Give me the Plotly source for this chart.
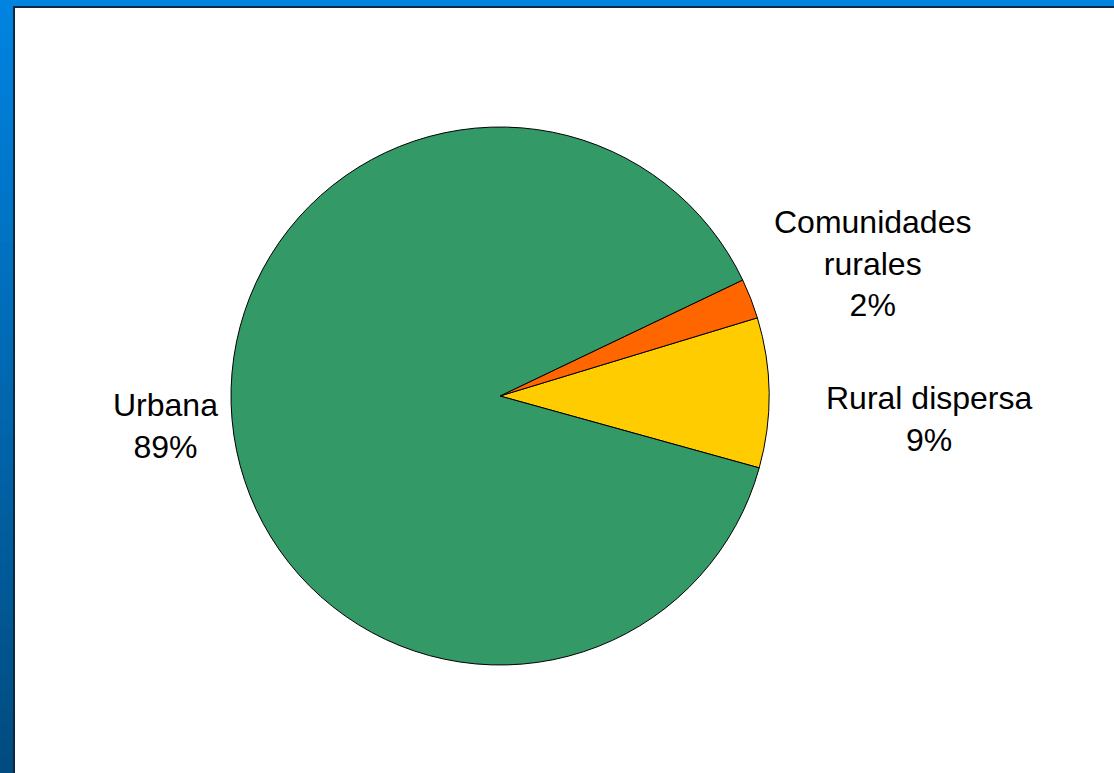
import plotly.graph_objects as go

W, H = 1114, 773

labels = ["Rural dispersa", "Comunidades rurales", "Urbana"]
label_lines = ["Rural dispersa", "Comunidades<br>rurales", "Urbana"]
values = [9.0, 2.4, 88.6]
colors = ["#FFCC00", "#FF6600", "#339966"]


def px(x):
    return x / W


def py(y):
    return 1 - y / H


fig = go.Figure()
fig.add_trace(go.Pie(
    labels=labels,
    values=values,
    sort=False,
    direction="counterclockwise",
    rotation=73.1,
    marker=dict(colors=colors, line=dict(color="black", width=1)),
    textinfo="none",
    hoverinfo="label+percent",
    showlegend=False,
    domain=dict(x=[px(231), px(769)], y=[py(665), py(127)]),
))

# percent labels, computed from the values
total = sum(values)
pcts = [round(v / total * 100) for v in values]
label_pos = [(929, 419), (872, 263), (166, 426)]
for name, p, (lx, ly) in zip(label_lines, pcts, label_pos):
    fig.add_annotation(
        x=px(lx), y=py(ly), xref="paper", yref="paper",
        text=f"{name}<br>{p}%", showarrow=False,
        xanchor="center", yanchor="middle", align="center",
        font=dict(family="Liberation Sans, Arial, sans-serif", size=32, color="black"),
    )

# decorative slide frame
shapes = []
top_c = (0, 131, 224)
bot_c = (0, 76, 128)
n = 48
for i in range(n):
    t = i / (n - 1)
    c = tuple(int(round(top_c[k] + (bot_c[k] - top_c[k]) * t)) for k in range(3))
    y0 = round(H * i / n)
    y1 = round(H * (i + 1) / n) + 2
    shapes.append(dict(type="rect", xref="paper", yref="paper",
                       x0=px(0), x1=px(13), y0=py(min(y1, H)), y1=py(y0),
                       fillcolor=f"rgb{c}", line=dict(width=0), layer="above"))
shapes.append(dict(type="rect", xref="paper", yref="paper",
                   x0=px(0), x1=px(W), y0=py(6), y1=py(0),
                   fillcolor="rgb(0,132,224)", line=dict(width=0), layer="above"))
shapes.append(dict(type="rect", xref="paper", yref="paper",
                   x0=px(13), x1=px(W), y0=py(8), y1=py(6),
                   fillcolor="rgb(12,40,64)", line=dict(width=0), layer="above"))
shapes.append(dict(type="rect", xref="paper", yref="paper",
                   x0=px(13), x1=px(15), y0=py(H), y1=py(6),
                   fillcolor="rgb(12,40,64)", line=dict(width=0), layer="above"))

fig.update_layout(
    width=W, height=H,
    margin=dict(l=0, r=0, t=0, b=0),
    paper_bgcolor="white",
    plot_bgcolor="white",
    shapes=shapes,
)

fig.write_html(
    "out.html",
    config={"displayModeBar": False},
    post_script="document.body.style.margin='0';document.body.style.padding='0';document.body.style.overflow='hidden';",
)
